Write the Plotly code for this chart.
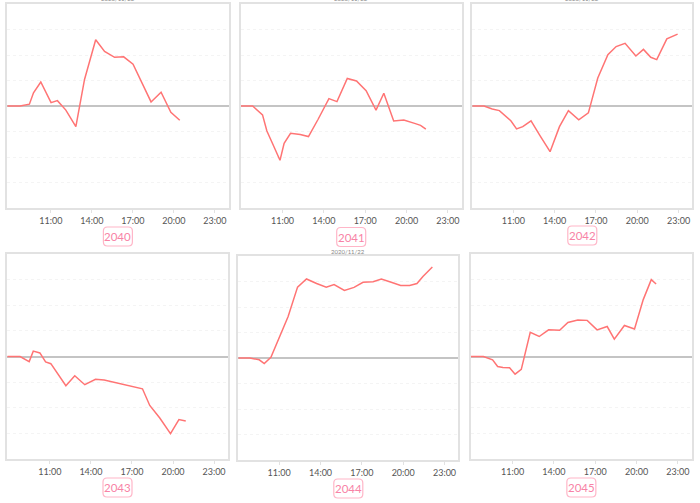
import plotly.graph_objects as go

DATE = "2020-11-22"
TITLE_TEXT = "2020/11/22"
LABELS = ["2040", "2041", "2042", "2043", "2044", "2045"]
TICK_TIMES = ["11:00", "14:00", "17:00", "20:00", "23:00"]
TICK_LABELS = ["11:00", "14:00", "17:00", "20:00", "23:00"]

t2040 = ["07:49","08:45","09:26","09:44","10:16","10:38","11:01","11:29","12:06","12:50","13:28",
         "14:17","14:56","15:40","16:20","17:01","17:40","18:20","19:04","19:47","20:26"]
v2040 = [0,0,0.07,0.52,0.94,0.56,0.13,0.21,-0.16,-0.81,1.04,2.6,2.14,1.91,1.93,1.64,0.89,0.16,0.54,-0.25,-0.56]

t2041 = ["07:58","08:50","09:33","09:52","10:18","10:49","11:07","11:35","12:17","12:53","13:35","14:22",
         "14:57","15:42","16:22","17:04","17:47","18:21","19:04","19:48","20:35","21:01","21:24"]
v2041 = [0,0,-0.35,-0.98,-1.50,-2.13,-1.46,-1.07,-1.12,-1.20,-0.52,0.29,0.17,1.08,0.98,0.60,-0.16,0.50,
         -0.59,-0.55,-0.68,-0.76,-0.91]

t2042 = ["08:01","08:52","09:28","09:59","10:49","11:14","11:41","12:17","12:56","13:40","14:21","15:00",
         "15:45","16:27","17:08","17:52","18:28","19:07","19:54","20:27","20:59","21:25","22:09","22:56"]
v2042 = [0,0,-0.12,-0.18,-0.58,-0.90,-0.81,-0.58,-1.16,-1.79,-0.81,-0.18,-0.54,-0.27,1.10,2.01,2.33,2.46,
         1.96,2.22,1.91,1.82,2.63,2.82]

t2043 = ["07:53","08:49","09:29","09:47","10:16","10:41","11:04","12:10","12:49","13:33","14:20","14:58",
         "17:46","18:18","19:02","19:49","20:26","20:56"]
v2043 = [0,0,-0.20,0.21,0.14,-0.21,-0.28,-1.14,-0.75,-1.10,-0.89,-0.92,-1.26,-1.91,-2.40,-3.01,-2.46,-2.52]

t2044 = ["08:02","08:52","09:33","09:55","10:24","11:03","11:39","12:20","12:59","13:43","14:25","14:59",
         "15:44","16:26","17:05","17:49","18:25","19:08","19:49","20:28","21:00","21:26","22:07"]
v2044 = [0,0,-0.07,-0.22,0.03,0.88,1.63,2.78,3.10,2.92,2.78,2.88,2.65,2.77,2.97,2.99,3.10,2.97,2.84,2.84,
         2.92,3.20,3.57]

t2045 = ["07:59","08:53","09:33","09:55","10:18","10:47","11:11","11:38","12:17","12:56","13:37","14:25",
         "15:01","15:44","16:25","17:08","17:52","18:23","19:07","19:51","20:29","21:04","21:25"]
v2045 = [0,0,-0.13,-0.39,-0.43,-0.44,-0.69,-0.50,0.94,0.78,1.04,1.02,1.33,1.42,1.41,1.04,1.17,0.68,1.21,
         1.07,2.22,3.00,2.83]

TIMES = [t2040, t2041, t2042, t2043, t2044, t2045]
VALUES = [v2040, v2041, v2042, v2043, v2044, v2045]

W, H = 700, 503
# panel pixel boxes: x0, x1, y0(top), y1(bottom)
BOXES = [
    (7.3, 228.5, 4, 208),
    (240.7, 461.7, 4, 208),
    (472.3, 692.3, 4, 208),
    (7.3, 227.7, 254, 459),
    (238.3, 458.3, 256, 460),
    (471.0, 691.7, 254, 459),
]
LABEL_Y = [236.5, 237, 235.5, 487.5, 488.5, 487.5]
TITLE_Y = [-1.5, -1.5, -1.5, None, 251.0, None]

LINE_COLOR = "#ff7474"
BORDER = "#e2e2e2"

fig = go.Figure()
shapes = []
annotations = []

for i in range(6):
    n = "" if i == 0 else str(i + 1)
    x0, x1, yt, yb = BOXES[i]
    xs = [f"{DATE} {t}" for t in TIMES[i]]
    fig.add_trace(go.Scatter(
        x=xs, y=VALUES[i], mode="lines",
        line=dict(color=LINE_COLOR, width=1.5),
        xaxis="x" + n, yaxis="y" + n, showlegend=False, hoverinfo="skip"))
    fig.layout["xaxis" + n] = dict(
        domain=[x0 / W, x1 / W], anchor="y" + n,
        type="date", range=[xs[0], "2020-11-23 00:00"],
        tickvals=[f"{DATE} {t}" for t in TICK_TIMES], ticktext=TICK_LABELS,
        tickfont=dict(size=9, color="#555555", family="Lato"),
        showgrid=False, zeroline=False,
        showline=True, mirror=True, linecolor=BORDER, linewidth=1.5,
        ticks="outside", ticklen=3, tickcolor=BORDER, fixedrange=True,
    )
    fig.layout["yaxis" + n] = dict(
        domain=[1 - yb / H, 1 - yt / H], anchor="x" + n,
        range=[-4, 4], dtick=1, showticklabels=False,
        showgrid=True, gridcolor="#f4f4f4", gridwidth=1, griddash="dot",
        zeroline=True, zerolinecolor="#c4c4c4", zerolinewidth=1.5,
        showline=True, mirror=True, linecolor=BORDER, linewidth=1.5,
        ticks="", fixedrange=True,
    )
    cx = (x0 + x1) / 2
    # label box (rounded rectangle)
    bw, bh, r = 29, 19, 4
    lx0, lx1 = cx - bw / 2, cx + bw / 2
    ly = LABEL_Y[i]
    py0, py1 = 1 - (ly - bh / 2) / H, 1 - (ly + bh / 2) / H
    rx, ry = r / W, r / H
    X0, X1 = lx0 / W, lx1 / W
    path = (f"M {X0+rx},{py0} L {X1-rx},{py0} Q {X1},{py0} {X1},{py0-ry} "
            f"L {X1},{py1+ry} Q {X1},{py1} {X1-rx},{py1} L {X0+rx},{py1} "
            f"Q {X0},{py1} {X0},{py1+ry} L {X0},{py0-ry} Q {X0},{py0} {X0+rx},{py0} Z")
    shapes.append(dict(type="path", path=path, xref="paper", yref="paper",
                       line=dict(color="#ffb6c8", width=1.2), fillcolor="white", layer="above"))
    annotations.append(dict(text=LABELS[i], x=cx / W, y=1 - ly / H, xref="paper", yref="paper",
                            showarrow=False, xanchor="center", yanchor="middle",
                            font=dict(size=11.5, color="#f883a6", family="Lato")))
    if TITLE_Y[i] is not None:
        annotations.append(dict(text=TITLE_TEXT, x=cx / W, y=1 - TITLE_Y[i] / H, xref="paper",
                                yref="paper", showarrow=False, xanchor="center", yanchor="middle",
                                font=dict(size=6, color="#888888", family="Lato")))

fig.update_layout(
    width=W, height=H, margin=dict(l=0, r=0, t=0, b=0),
    paper_bgcolor="white", plot_bgcolor="white",
    shapes=shapes, annotations=annotations,
)
fig.write_html("out.html", config={"displayModeBar": False},
               post_script="document.body.style.margin='0';document.body.style.overflow='hidden';")
